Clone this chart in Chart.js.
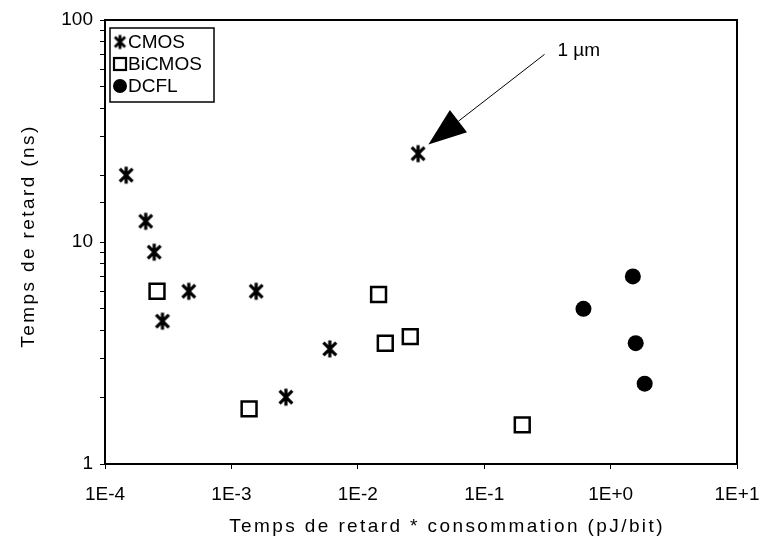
<!DOCTYPE html>
<html>
<head>
<meta charset="utf-8">
<style>
  html, body { margin: 0; background: #fff; }
</style>
</head>
<body>
<canvas id="c" width="763" height="547"></canvas>
<script src="https://cdn.jsdelivr.net/npm/chart.js@4/dist/chart.umd.min.js"></script>
<script>
// values (log-log)
const CMOS_X = [1.47e-4, 2.1e-4, 2.45e-4, 2.85e-4, 4.6e-4, 1.57e-3, 2.7e-3, 6.0e-3, 3.0e-2];
const CMOS_Y = [20, 12.4, 9, 4.4, 6, 6, 2, 3.3, 25];
const BICMOS_X = [2.58e-4, 1.38e-3, 1.46e-2, 1.65e-2, 2.6e-2, 0.2];
const BICMOS_Y = [6, 1.77, 5.8, 3.5, 3.75, 1.5];
const DCFL_X = [0.61, 1.5, 1.58, 1.86];
const DCFL_Y = [5, 7, 3.5, 2.3];

const X_TICKS = [1e-4, 1e-3, 1e-2, 1e-1, 1, 10];
const X_LABELS = ["1E-4", "1E-3", "1E-2", "1E-1", "1E+0", "1E+1"];
const Y_LABELS = { 1: "1", 10: "10", 100: "100" };
const X_TITLE = "Temps de retard * consommation (pJ/bit)";
const Y_TITLE = "Temps de retard (ns)";

// annotation: arrow pointing at the 1 µm CMOS point
const ARROW_FROM = [0.30, 70];
const ARROW_TO = [0.0362, 27.5];
const NOTE_AT = [0.38, 73];
const NOTE = "1 µm";

const FONT = '"Liberation Sans", Arial, sans-serif';
const SIZE = 19;
const INK = "#000";

function pts(xs, ys) {
  return xs.map((x, i) => ({ x, y: ys[i] }));
}

// asterisk = X plus a vertical stroke, like the original plotting package
function asterisk(size, lw) {
  const cv = document.createElement("canvas");
  cv.width = size;
  cv.height = size;
  const g = cv.getContext("2d");
  const m = lw / 2 + 1;
  g.strokeStyle = INK;
  g.lineWidth = lw;
  g.beginPath();
  g.moveTo(m + 1, m + 1); g.lineTo(size - m - 1, size - m - 1);
  g.moveTo(size - m - 1, m + 1); g.lineTo(m + 1, size - m - 1);
  g.moveTo(size / 2, m - 1); g.lineTo(size / 2, size - m + 1);
  g.stroke();
  return cv;
}
const STAR = asterisk(20, 3.2);
const STAR_SMALL = asterisk(17, 2.8);

const frame = {
  id: "frame",
  afterDatasetsDraw(chart) {
    const { ctx, chartArea: a, scales } = chart;
    ctx.save();
    ctx.strokeStyle = INK;
    ctx.fillStyle = INK;
    ctx.lineWidth = 2;
    ctx.strokeRect(a.left, a.top, a.right - a.left, a.bottom - a.top);

    // arrow
    const x0 = scales.x.getPixelForValue(ARROW_FROM[0]);
    const y0 = scales.y.getPixelForValue(ARROW_FROM[1]);
    const x1 = scales.x.getPixelForValue(ARROW_TO[0]);
    const y1 = scales.y.getPixelForValue(ARROW_TO[1]);
    const ang = Math.atan2(y1 - y0, x1 - x0);
    const len = 38, half = 14;
    const bx = x1 - len * Math.cos(ang), by = y1 - len * Math.sin(ang);
    ctx.lineWidth = 1;
    ctx.beginPath();
    ctx.moveTo(x0, y0);
    ctx.lineTo(bx, by);
    ctx.stroke();
    ctx.beginPath();
    ctx.moveTo(x1, y1);
    ctx.lineTo(bx + half * Math.sin(ang), by - half * Math.cos(ang));
    ctx.lineTo(bx - half * Math.sin(ang), by + half * Math.cos(ang));
    ctx.closePath();
    ctx.fill();

    ctx.font = SIZE + "px " + FONT;
    ctx.textBaseline = "middle";
    ctx.fillText(NOTE, scales.x.getPixelForValue(NOTE_AT[0]), scales.y.getPixelForValue(NOTE_AT[1]));

    // legend box, top-left inside the plot
    const lx = a.left + 5, ly = a.top + 8, lw = 104, lh = 74;
    ctx.lineWidth = 1.5;
    ctx.fillStyle = "#fff";
    ctx.fillRect(lx, ly, lw, lh);
    ctx.strokeRect(lx, ly, lw, lh);
    chart.data.datasets.forEach((ds, i) => {
      const cy = ly + 14 + i * 22;
      const cx = lx + 10;
      ctx.fillStyle = INK;
      if (i === 0) {
        ctx.drawImage(STAR_SMALL, cx - 8.5, cy - 8.5);
      } else if (i === 1) {
        ctx.lineWidth = 2.2;
        ctx.strokeRect(cx - 6, cy - 6, 12, 12);
      } else {
        ctx.beginPath();
        ctx.arc(cx, cy, 7, 0, Math.PI * 2);
        ctx.fill();
      }
      ctx.font = SIZE + "px " + FONT;
      ctx.fillText(ds.label, cx + 8, cy + 1);
    });

    // axis titles (the scan's titles are spaced wider than the tick labels)
    ctx.letterSpacing = "2.4px";
    ctx.textAlign = "center";
    ctx.fillText(X_TITLE, 447, 527);
    ctx.translate(29, 236);
    ctx.rotate(-Math.PI / 2);
    ctx.fillText(Y_TITLE, 0, 0);
    ctx.restore();
  },
};

new Chart(document.getElementById("c"), {
  type: "scatter",
  data: {
    datasets: [
      { label: "CMOS", data: pts(CMOS_X, CMOS_Y), pointStyle: STAR, pointRadius: 10 },
      {
        label: "BiCMOS",
        data: pts(BICMOS_X, BICMOS_Y),
        pointStyle: "rect",
        pointRadius: 10.5,
        backgroundColor: "#fff",
        borderColor: INK,
        borderWidth: 2.5,
      },
      {
        label: "DCFL",
        data: pts(DCFL_X, DCFL_Y),
        pointStyle: "circle",
        pointRadius: 8,
        backgroundColor: INK,
        borderColor: INK,
        borderWidth: 0,
      },
    ],
  },
  options: {
    responsive: false,
    animation: false,
    layout: { padding: { left: 0, top: 20, right: 26, bottom: 0 } },
    plugins: { legend: { display: false }, tooltip: { enabled: false } },
    scales: {
      x: {
        type: "logarithmic",
        min: 1e-4,
        max: 10,
        afterBuildTicks: (s) => { s.ticks = X_TICKS.map((v) => ({ value: v })); },
        afterFit: (s) => { s.height = 83; s.paddingLeft = 0; s.paddingRight = 0; },
        grid: { drawOnChartArea: false, tickLength: 5, tickColor: INK, tickWidth: 1 },
        border: { color: INK, width: 2 },
        ticks: {
          color: INK,
          font: { family: FONT, size: SIZE },
          padding: 14,
          maxRotation: 0,
          autoSkip: false,
          callback: (v) => X_LABELS[X_TICKS.indexOf(v)] || "",
        },
      },
      y: {
        type: "logarithmic",
        min: 1,
        max: 100,
        afterFit: (s) => { s.width = 105; s.paddingTop = 0; s.paddingBottom = 0; },
        grid: { drawOnChartArea: false, tickLength: 5, tickColor: INK, tickWidth: 1 },
        border: { color: INK, width: 2 },
        ticks: {
          color: INK,
          font: { family: FONT, size: SIZE },
          padding: 7,
          autoSkip: false,
          callback: (v) => Y_LABELS[v] || "",
        },
      },
    },
  },
  plugins: [frame],
});
</script>
</body>
</html>
